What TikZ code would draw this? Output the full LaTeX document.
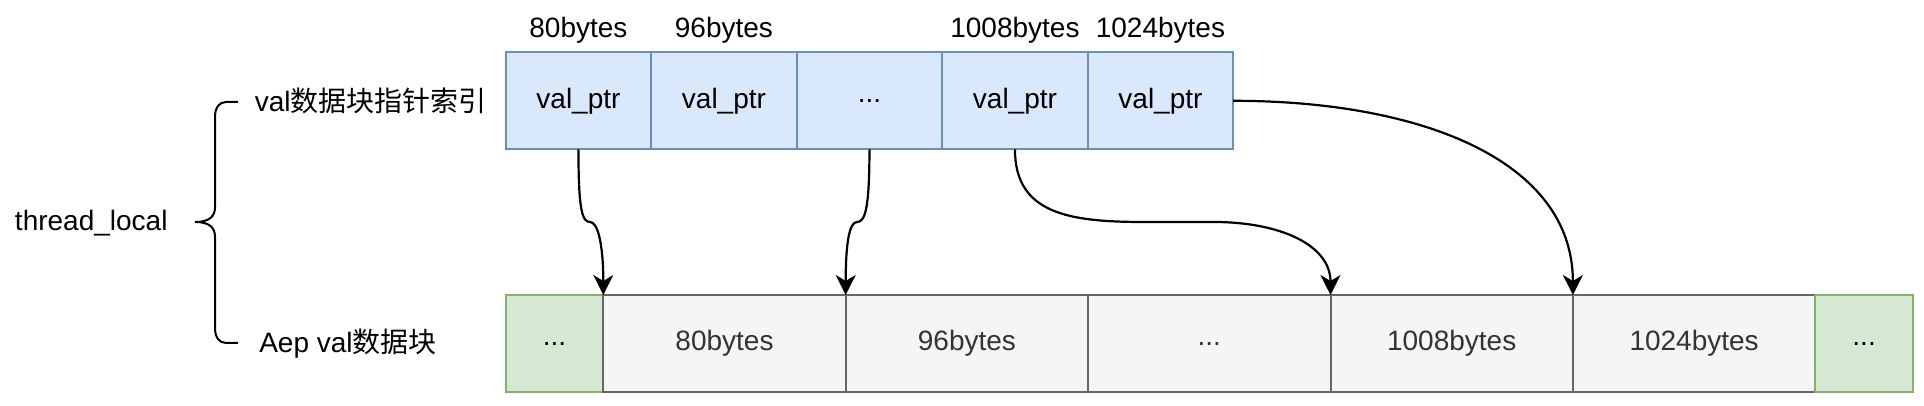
\documentclass[tikz,border=0pt]{standalone}
\usepackage{fontspec}
\setmainfont{Liberation Sans}
\newfontfamily\cjk{Noto Sans CJK SC}
\usetikzlibrary{positioning,arrows.meta}
\definecolor{ptrfill}{HTML}{DAE8FC}
\definecolor{ptrline}{HTML}{6C8EBF}
\definecolor{blkfill}{HTML}{F5F5F5}
\definecolor{blkline}{HTML}{666666}
\definecolor{blktext}{HTML}{333333}
\definecolor{padfill}{HTML}{D5E8D4}
\definecolor{padline}{HTML}{82B366}

\begin{document}
\begin{tikzpicture}[x=0.5pt,y=-0.5pt,line width=1pt,>={Stealth[length=10pt,width=10pt,inset=3pt]},
  font=\fontsize{14}{17}\selectfont]
  \tikzstyle{ptr}=[rectangle,draw=ptrline,fill=ptrfill,outer sep=0pt,inner sep=0pt,minimum width=72.75pt,minimum height=48.5pt]
  \tikzstyle{blk}=[rectangle,draw=blkline,fill=blkfill,text=blktext,outer sep=0pt,inner sep=0pt,minimum width=121.2pt,minimum height=48.6pt]
  \tikzstyle{pad}=[blk,draw=padline,fill=padfill,text=black,minimum width=48.8pt]
  \tikzstyle{size}=[inner sep=0pt]
  \tikzstyle{link}=[->,line width=1.1pt]
  \useasboundingbox (0,0) rectangle (1924,406);

    % pointer index
    \node [ptr] (p1) [anchor=north west] at (505.7,52.3) {val\_ptr};
    \node [ptr] (p2) [right=0pt of p1] {val\_ptr};
    \node [ptr] (p3) [right=0pt of p2] {...};
    \node [ptr] (p4) [right=0pt of p3] {val\_ptr};
    \node [ptr] (p5) [right=0pt of p4] {val\_ptr};
    \node [size] [above=4pt of p1] {80bytes};
    \node [size] [above=4pt of p2] {96bytes};
    \node [size] [above=4pt of p4] {1008bytes};
    \node [size] [above=4pt of p5] {1024bytes};

    % aep data blocks
    \node [pad] (b0) [anchor=north west] at (505.7,295) {...};
    \node [blk] (b1) [right=0pt of b0] {80bytes};
    \node [blk] (b2) [right=0pt of b1] {96bytes};
    \node [blk] (b3) [right=0pt of b2] {...};
    \node [blk] (b4) [right=0pt of b3] {1008bytes};
    \node [blk] (b5) [right=0pt of b4] {1024bytes};
    \node [pad] (b6) [right=0pt of b5] {...};

    \node [size] (ptrname) [left=9pt of p1] {val{\cjk 数据块指针索引}};
    \node [size] (blkname) [left=34pt of b0] {Aep val{\cjk 数据块}};
    \node [size] (tls) [anchor=west] at (14,223) {thread\_local};

    \draw (238,102) -- (226,102) .. controls (219,102) and (215,108) .. (215,117) -- (215,207)
      .. controls (215,216) and (210,222) .. (195,222)
      .. controls (210,222) and (215,228) .. (215,237) -- (215,328)
      .. controls (215,337) and (219,343) .. (226,343) -- (238,343);

    \coordinate (j1) at (590,222);
    \coordinate (j2) at (857,222);
    \coordinate (j3) at (1145,222);
    \coordinate (j4) at (1214,222);
    \draw [link] (p1.south) .. controls +(0,60) and +(-8,0) .. (j1)
      .. controls +(8,0) and +(0,-50) .. (b1.north west);
    \draw [link] (p3.south) .. controls +(0,60) and +(8,0) .. (j2)
      .. controls +(-8,0) and +(0,-50) .. (b2.north west);
    \draw [link] (p4.south) .. controls +(0,65) and +(-75,0) .. (j3) -- (j4)
      .. controls +(66,0) and +(0,-50) .. (b4.north west);
    \draw [link] (p5.east) .. controls +(187,0) and +(0,-135) .. (b5.north west);
\end{tikzpicture}
\end{document}
